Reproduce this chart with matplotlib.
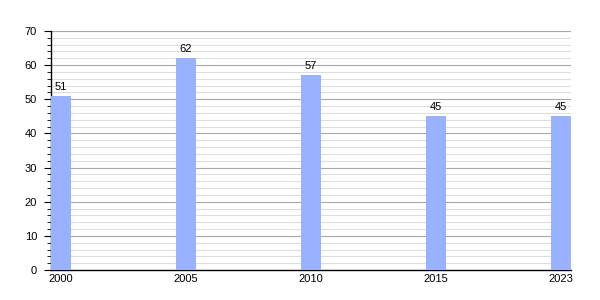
import matplotlib.pyplot as plt
import numpy as np
from matplotlib.ticker import MultipleLocator

# Data
years = ['2000', '2005', '2010', '2015', '2023']
values = [51, 62, 57, 45, 45]

plt.rcParams['font.family'] = ['Liberation Sans', 'DejaVu Sans']

fig = plt.figure(figsize=(6, 3), dpi=100)
ax = fig.add_axes([0.085, 0.1, 0.867, 0.7967])

x = np.arange(len(years))
w = 0.16
ax.bar(x, values, width=w, color='#99b2ff', zorder=3)

for xi, v in zip(x, values):
    ax.text(xi, v + 1.2, str(v), ha='center', va='bottom', fontsize=8)

ax.set_xlim(-w / 2, x[-1] + w / 2)
ax.set_ylim(0, 70)
ax.set_xticks(x)
ax.set_xticklabels(years)
ax.yaxis.set_major_locator(MultipleLocator(10))
ax.yaxis.set_minor_locator(MultipleLocator(2))

# Grid lines
ax.grid(axis='y', which='major', color='#a8a8a8', linewidth=0.8, zorder=0)
ax.grid(axis='y', which='minor', color='#dddddd', linewidth=0.8, zorder=0)

ax.spines[['top', 'right']].set_visible(False)
ax.spines['left'].set_linewidth(1)
ax.spines['bottom'].set_linewidth(1)
ax.tick_params(axis='y', which='major', length=5, labelsize=8, pad=5)
ax.tick_params(axis='y', which='minor', length=3)
ax.tick_params(axis='x', length=0, labelsize=8, pad=3)

fig.savefig('out.png', dpi=100)
